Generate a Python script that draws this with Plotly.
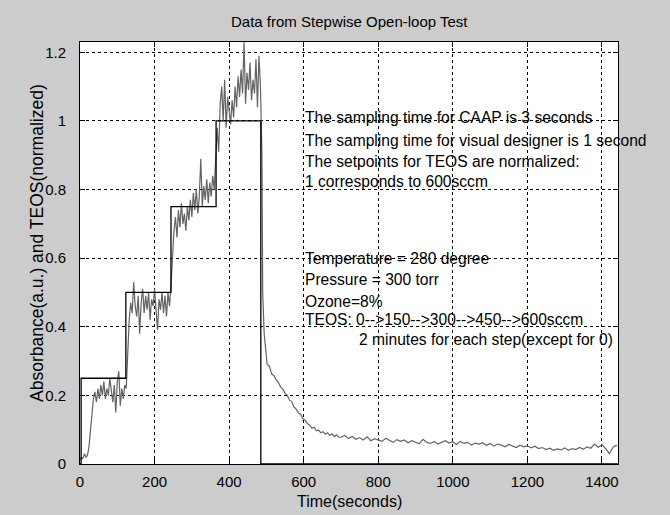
import plotly.graph_objects as go

# ---------------- data ----------------
# Setpoint (TEOS, normalized) step profile
sp_time = [0, 3, 123, 244, 365, 485, 1443]
sp_value = [0, 0.25, 0.50, 0.75, 1.00, 0, 0]

# Absorbance, rising part (sampled every 4 s, 0..488 s)
ramp_time = list(range(0, 492, 4))
ramp_abs = [
    0.01, 0.02, 0.015, 0.03, 0.02, 0.025, 0.05, 0.10, 0.15, 0.19,
    0.21, 0.18, 0.22, 0.19, 0.23, 0.20, 0.24, 0.19, 0.22, 0.20,
    0.25, 0.21, 0.18, 0.23, 0.15, 0.24, 0.27, 0.17, 0.22, 0.19,
    0.23, 0.22, 0.35, 0.42, 0.47, 0.44, 0.53, 0.46, 0.43, 0.49,
    0.38, 0.47, 0.51, 0.44, 0.49, 0.45, 0.50, 0.42, 0.48, 0.46,
    0.51, 0.43, 0.39, 0.48, 0.45, 0.50, 0.44, 0.49, 0.43, 0.50,
    0.46, 0.52, 0.60, 0.68, 0.72, 0.66, 0.74, 0.69, 0.76, 0.70,
    0.73, 0.68, 0.75, 0.71, 0.77, 0.72, 0.79, 0.74, 0.80, 0.73,
    0.78, 0.89, 0.75, 0.81, 0.77, 0.83, 0.76, 0.82, 0.78, 0.84,
    0.80, 0.88, 0.98, 0.91, 1.05, 1.10, 1.00, 1.12, 0.98, 1.07,
    1.02, 0.99, 1.06, 1.01, 1.10, 1.04, 1.13, 1.07, 1.15, 1.08,
    1.23, 1.05, 1.14, 1.09, 1.17, 1.06, 1.12, 1.08, 1.18, 1.04,
    1.19, 1.10, 0.90,
]

# Absorbance, decay part after TEOS is switched off
decay_time = [
    490, 494, 498, 502, 508, 514, 520, 526, 532, 538, 544, 550, 556, 562,
    568, 574, 580, 586, 592, 598, 604, 610, 616, 622, 628, 634, 640, 646,
    652, 658, 664, 670, 676, 682, 688, 694,
]
decay_abs = [
    0.50, 0.38, 0.32, 0.29, 0.285, 0.262, 0.258, 0.245, 0.238, 0.225,
    0.218, 0.206, 0.200, 0.186, 0.182, 0.166, 0.160, 0.148, 0.145, 0.132,
    0.128, 0.117, 0.114, 0.104, 0.107, 0.097, 0.099, 0.091, 0.094, 0.087,
    0.091, 0.083, 0.088, 0.080, 0.085, 0.078,
]

# Absorbance, tail (sampled every 10 s, 700..1440 s)
tail_time = list(range(700, 1450, 10))
tail_abs = [
    0.078, 0.083, 0.074, 0.080, 0.072, 0.077, 0.070, 0.079, 0.068, 0.074,
    0.070, 0.066, 0.075, 0.069, 0.063, 0.071, 0.066, 0.070, 0.062, 0.068,
    0.064, 0.059, 0.072, 0.063, 0.060, 0.066, 0.058, 0.064, 0.068, 0.061,
    0.065, 0.057, 0.066, 0.060, 0.063, 0.055, 0.061, 0.058, 0.062, 0.054,
    0.060, 0.052, 0.058, 0.055, 0.050, 0.057, 0.052, 0.048, 0.055, 0.050,
    0.053, 0.047, 0.052, 0.045, 0.048, 0.042, 0.046, 0.040, 0.044, 0.041,
    0.047, 0.040, 0.045, 0.042, 0.048, 0.043, 0.050, 0.046, 0.058, 0.049,
    0.056, 0.045, 0.030, 0.050, 0.055,
]

x_ticks = [0, 200, 400, 600, 800, 1000, 1200, 1400]
y_ticks = [0, 0.2, 0.4, 0.6, 0.8, 1.0, 1.2]
y_tick_labels = ["0", "0.2", "0.4", "0.6", "0.8", "1", "1.2"]

title_text = "Data from Stepwise Open-loop Test"
x_title = "Time(seconds)"
y_title = "Absorbance(a.u.) and TEOS(normalized)"

note_block1 = [
    "The sampling time for CAAP is 3 seconds",
    "The sampling time for visual designer is 1 second",
    "The setpoints for TEOS are normalized:",
    "1 corresponds to 600sccm",
]
note_block1_y = [1.009, 0.942, 0.883, 0.822]
note_block2 = [
    "Temperature = 280 degree",
    "Pressure = 300 torr",
    "Ozone=8%",
    "TEOS: 0-->150-->300-->450-->600sccm",
]
note_block2_y = [0.600, 0.539, 0.475, 0.420]
note_last = "2 minutes for each step(except for 0)"
note_last_y = 0.364

# ---------------- figure ----------------
W, H = 670, 515
ML, MR, MT, MB = 80, 52, 42, 51
PW, PH = W - ML - MR, H - MT - MB

abs_time = ramp_time + decay_time + tail_time
abs_val = ramp_abs + decay_abs + tail_abs

FONT = "Liberation Sans, Arial, sans-serif"

fig = go.Figure()
fig.add_trace(go.Scatter(
    x=abs_time, y=abs_val, mode="lines",
    line=dict(color="#636363", width=1.2), showlegend=False,
))
fig.add_trace(go.Scatter(
    x=sp_time, y=sp_value, mode="lines", line_shape="hv",
    line=dict(color="black", width=1.3), showlegend=False,
))

def px_x(px):
    return (px - ML) / PW

def px_y(py):
    return (H - MB - py) / PH

for txt, yy in zip(note_block1 + note_block2, note_block1_y + note_block2_y):
    fig.add_annotation(x=597, y=yy, xref="x", yref="y", text=txt,
                       showarrow=False, xanchor="left", yanchor="middle",
                       font=dict(size=15.6, color="black", family=FONT))
fig.add_annotation(x=742, y=note_last_y, xref="x", yref="y", text=note_last,
                   showarrow=False, xanchor="left", yanchor="middle",
                   font=dict(size=15.6, color="black", family=FONT))

# title and axis titles placed by pixel position
fig.add_annotation(x=px_x(349), y=px_y(22), xref="paper", yref="paper",
                   text=title_text, showarrow=False, xanchor="center",
                   yanchor="middle", font=dict(size=15, color="black", family=FONT))
fig.add_annotation(x=px_x(349), y=px_y(501), xref="paper", yref="paper",
                   text=x_title, showarrow=False, xanchor="center",
                   yanchor="middle", font=dict(size=16, color="black", family=FONT))
fig.add_annotation(x=px_x(37), y=px_y(243), xref="paper", yref="paper",
                   text=y_title, showarrow=False, textangle=-90,
                   xanchor="center", yanchor="middle",
                   font=dict(size=17.5, color="black", family=FONT))

fig.update_layout(
    width=W, height=H,
    margin=dict(l=ML, r=MR, t=MT, b=MB, pad=0, autoexpand=False),
    paper_bgcolor="#cccccc", plot_bgcolor="white",
    font=dict(family=FONT, size=14, color="black"),
    xaxis=dict(range=[0, 1443], tickvals=x_ticks, ticks="inside", ticklen=5,
               tickcolor="black", showline=True, linecolor="black", linewidth=1,
               mirror="ticks", showgrid=True, gridcolor="black", gridwidth=1,
               griddash="3px,3px", zeroline=False, ticklabelstandoff=4,
               tickfont=dict(size=15)),
    yaxis=dict(range=[0, 1.23], tickvals=y_ticks, ticktext=y_tick_labels,
               ticks="inside", ticklen=5, tickcolor="black", showline=True,
               linecolor="black", linewidth=1, mirror="ticks", showgrid=True,
               gridcolor="black", gridwidth=1, griddash="3px,3px",
               zeroline=False, ticklabelstandoff=10, tickfont=dict(size=15)),
)

fig.write_html("out.html",
               config={"displayModeBar": False},
               post_script="document.body.style.margin='0px';"
                           "document.body.style.padding='0px';")
